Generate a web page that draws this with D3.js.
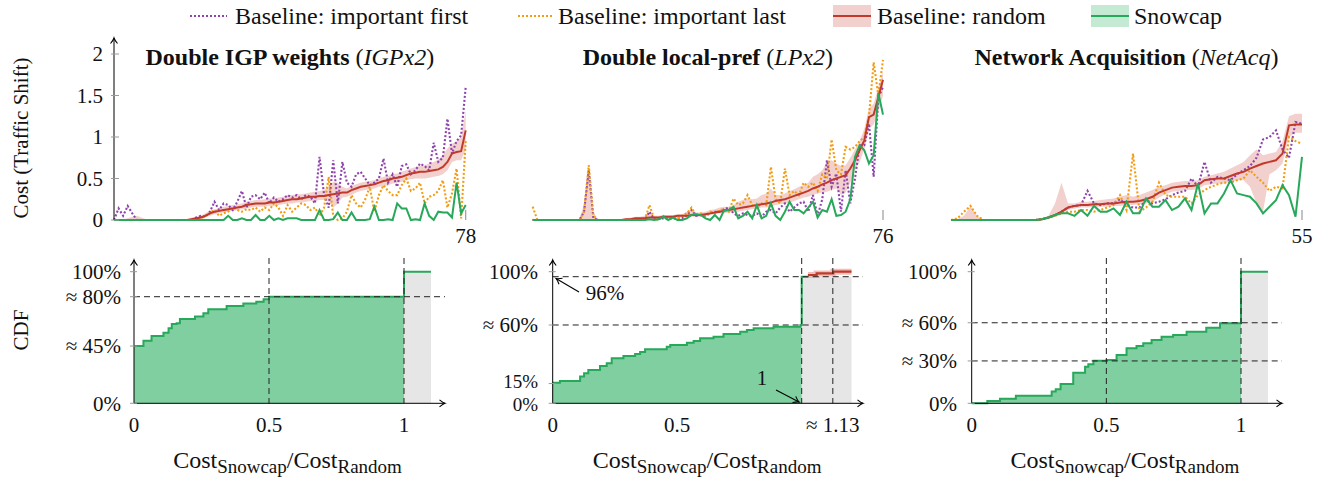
<!DOCTYPE html>
<html><head><meta charset="utf-8">
<script src="https://cdn.jsdelivr.net/npm/d3@7"></script>
<style>
body{margin:0;background:#fff}
svg{display:block}
text{font-family:'Liberation Serif','Times New Roman',serif;fill:#111}
</style>
</head><body>
<svg id="c" width="1330" height="483"></svg>
<script>
// ---------------- DATA ----------------
const legendLabels = ["Baseline: important first","Baseline: important last","Baseline: random","Snowcap"];
const panelTitles = ["Double IGP weights","Double local-pref","Network Acquisition"];
const panelAbbr = ["IGPx2","LPx2","NetAcq"];
const panelCounts = ["78","76","55"];
const topTicks = [0,0.5,1,1.5,2];
const topTickLabels = ["0","0.5","1","1.5","2"];

// IGPx2
const red1 = [0,0,0,0,0, 0,0,0,0,0, 0,0,0,0,0, 0,0,0.01,0.02,0.03, 0.05,0.08,0.1,0.11,0.12, 0.13,0.14,0.15,0.16,0.18, 0.19,0.2,0.2,0.2,0.21, 0.21,0.22,0.23,0.24,0.25, 0.25,0.26,0.27,0.28,0.28, 0.29,0.29,0.3,0.31,0.32, 0.33,0.33,0.36,0.38,0.4, 0.41,0.42,0.43,0.45,0.47, 0.48,0.5,0.51,0.52,0.54, 0.56,0.57,0.58,0.58,0.59, 0.6,0.61,0.64,0.7,0.8, 0.82,0.83,1.08];
const hi1 = [0.01,0.01,0.01,0.02,0.04, 0.05,0.03,0.01,0,0, 0,0,0,0,0, 0.01,0.01,0.03,0.04,0.05, 0.08,0.11,0.13,0.14,0.16, 0.17,0.18,0.19,0.2,0.22, 0.23,0.24,0.24,0.25,0.26, 0.26,0.27,0.28,0.3,0.3, 0.31,0.31,0.32,0.33,0.34, 0.35,0.36,0.4,0.46,0.45, 0.4,0.38,0.41,0.43,0.45, 0.46,0.47,0.48,0.5,0.52, 0.53,0.55,0.56,0.58,0.6, 0.62,0.64,0.65,0.66,0.68, 0.7,0.73,0.78,0.86,0.92, 0.95,1.0,1.32];
const lo1 = [0,0,0,0,0, 0,0,0,0,0, 0,0,0,0,0, 0,0,0,0,0.01, 0.03,0.05,0.07,0.08,0.09, 0.1,0.11,0.12,0.13,0.14, 0.15,0.16,0.16,0.16,0.17, 0.17,0.18,0.19,0.2,0.2, 0.21,0.21,0.22,0.23,0.23, 0.24,0.24,0.22,0.15,0.2, 0.27,0.28,0.3,0.33,0.35, 0.36,0.37,0.38,0.4,0.41, 0.42,0.44,0.45,0.46,0.48, 0.49,0.5,0.5,0.5,0.51, 0.52,0.53,0.55,0.6,0.7, 0.72,0.72,0.85];
const purple1 = [0,0.14,0.05,0.17,0.08, 0,0,0,0,0, 0,0,0,0,0, 0,0,0,0.03,0.05, 0.04,0.1,0.22,0.12,0.2, 0.18,0.12,0.22,0.35,0.15, 0.28,0.3,0.25,0.33,0.2, 0.27,0.22,0.25,0.3,0.27, 0.3,0.25,0.3,0.28,0.2, 0.76,0.3,0.15,0.72,0.2, 0.7,0.45,0.4,0.55,0.58, 0.5,0.42,0.45,0.5,0.74, 0.45,0.55,0.4,0.65,0.67, 0.55,0.6,0.68,0.65,0.6, 0.93,0.7,0.75,1.22,0.8, 0.95,1.02,1.6];
const orange1 = [0,0,0,0,0, 0,0,0,0,0, 0,0,0,0,0, 0,0,0,0,0.02, 0.05,0.08,0.12,0.05,0.08, 0.1,0.15,0.12,0.1,0.13, 0.12,0.15,0.1,0.15,0.12, 0.2,0.15,0.05,0.18,0.1, 0.15,0.2,0.18,0.12,0.15, 0.05,0.15,0.52,0.05,0, 0.02,0.1,0.3,0.2,0.15, 0.25,0.4,0.1,0.3,0.42, 0.35,0.3,0.3,0.42,0.5, 0.35,0.38,0.45,0.2,0.28, 0.3,0.35,0.48,0.15,0.32, 0.62,0.02,0.95];
const green1 = [0,0,0,0,0, 0,0,0,0,0, 0,0,0,0,0, 0,0,0,0,0, 0,0,0,0,0, 0.05,0,0,0.02,0, 0,0.06,0,0,0.05, 0,0.02,0,0.02,0.02, 0.02,0,0,0,0, 0.12,0,0,0.01,0.09, 0,0,0.09,0,0, 0,0.01,0.16,0,0, 0.01,0,0.2,0.14,0.14, 0,0.01,0,0.2,0.05, 0,0.1,0.09,0.09,0.03, 0.45,0.08,0.18];

// LPx2
const red2 = [0,0,0,0,0, 0,0,0,0,0, 0,0,0,0,0, 0,0,0,0,0, 0.01,0.01,0.02,0.02,0.02, 0.03,0.03,0.03,0.04,0.04, 0.04,0.05,0.05,0.05,0.06, 0.06,0.06,0.07,0.08,0.09, 0.1,0.11,0.12,0.13,0.14, 0.15,0.16,0.17,0.18,0.19, 0.2,0.21,0.23,0.24,0.25, 0.27,0.29,0.31,0.33,0.35, 0.38,0.4,0.43,0.45,0.48, 0.5,0.52,0.54,0.62,0.72, 0.84,0.96,1.24,1.27,1.48, 1.69];
const hi2 = [0.02,0,0,0,0, 0,0,0,0,0, 0,0.2,0.66,0.1,0, 0,0,0,0,0.01, 0.02,0.03,0.04,0.04,0.05, 0.1,0.05,0.05,0.06,0.06, 0.06,0.07,0.07,0.1,0.12, 0.09,0.09,0.1,0.12,0.13, 0.15,0.16,0.16,0.18,0.22, 0.24,0.26,0.25,0.26,0.3, 0.32,0.38,0.3,0.3,0.32, 0.35,0.37,0.4,0.42,0.45, 0.52,0.55,0.6,0.7,0.72, 0.68,0.65,0.66,0.75,0.85, 0.95,1.1,1.35,1.4,1.6, 1.78];
const lo2 = [0,0,0,0,0, 0,0,0,0,0, 0,0,0,0,0, 0,0,0,0,0, 0,0,0,0.01,0.01, 0.01,0.01,0.01,0.02,0.02, 0.02,0.03,0.03,0.03,0.04, 0.04,0.04,0.05,0.06,0.07, 0.08,0.08,0.09,0.1,0.1, 0.11,0.12,0.13,0.14,0.15, 0.15,0.16,0.18,0.19,0.2, 0.21,0.23,0.25,0.27,0.28, 0.3,0.32,0.33,0.34,0.36, 0.38,0.3,0.33,0.45,0.6, 0.7,0.85,1.1,1.15,1.3, 1.5];
const purple2 = [0,0,0,0,0, 0,0,0,0,0, 0,0.1,0.6,0.02,0, 0,0,0,0,0, 0,0,0,0,0, 0.1,0.01,0.02,0.02,0.02, 0.02,0.02,0.02,0.06,0.12, 0.05,0.06,0.05,0.08,0.1, 0.1,0.13,0.15,0.08,0.05, 0.08,0.06,0.05,0.08,0.04, 0.1,0.12,0.08,0.15,0.2, 0.1,0.15,0.2,0.22,0.1, 0.3,0.05,0.25,0.72,0.4, 0.56,0.1,0.6,0.2,0.5, 0.9,0.9,1.16,0.52,1.48, 1.6];
const orange2 = [0.16,0,0,0,0, 0,0,0,0,0, 0,0.1,0.66,0.05,0, 0,0,0,0,0, 0,0,0,0,0, 0.18,0.02,0,0.05,0.03, 0.04,0.02,0.05,0.08,0.15, 0.05,0.08,0.05,0.1,0.08, 0.12,0.13,0.1,0.26,0.18, 0.2,0.3,0.18,0.15,0.2, 0.18,0.64,0.25,0.2,0.62, 0.3,0.35,0.3,0.45,0.4, 0.45,0.35,0.55,0.5,0.97, 0.6,0.55,0.88,0.85,0.88, 0.95,1.0,1.25,1.9,1.5, 1.93];
const green2 = [0,0,0,0,0, 0,0,0,0,0, 0,0,0,0,0, 0,0,0,0,0, 0,0,0,0,0, 0.01,0,0.01,0.04,0, 0.03,0,0,0.02,0.06, 0.07,0.06,0.02,0,0.06, 0,0.12,0.12,0.16,0.02, 0.05,0.1,0.02,0.18,0.02, 0.05,0.2,0.05,0,0.1, 0.22,0.12,0.12,0.08,0.15, 0.22,0.03,0.12,0.1,0.25, 0.05,0.06,0.1,0.25,0.76, 0.9,0.84,0.68,0.78,1.53, 1.27];

// NetAcq
const red3 = [0,0,0,0,0, 0,0,0,0,0, 0,0,0,0,0.01, 0.03,0.06,0.1,0.15,0.17, 0.18,0.18,0.19,0.19,0.2, 0.2,0.21,0.22,0.22,0.23, 0.25,0.28,0.33,0.36,0.39, 0.4,0.41,0.41,0.42,0.48, 0.49,0.5,0.5,0.53,0.56, 0.58,0.62,0.65,0.68,0.7, 0.72,0.8,1.14,1.15,1.15];
const hi3 = [0.01,0.01,0.05,0.17,0.05, 0,0,0,0,0, 0,0,0,0,0.02, 0.05,0.2,0.45,0.2,0.2, 0.22,0.22,0.23,0.24,0.25, 0.26,0.28,0.3,0.28,0.3, 0.33,0.36,0.4,0.42,0.45, 0.46,0.47,0.47,0.48,0.52, 0.54,0.56,0.58,0.62,0.66, 0.7,0.78,0.85,0.78,0.8, 0.82,0.95,1.25,1.28,1.28];
const lo3 = [0,0,0,0,0, 0,0,0,0,0, 0,0,0,0,0, 0.01,0.04,0.07,0.12,0.14, 0.15,0.15,0.16,0.16,0.16, 0.17,0.17,0.18,0.18,0.19, 0.2,0.22,0.27,0.31,0.34, 0.35,0.36,0.36,0.37,0.42, 0.43,0.44,0.44,0.46,0.48, 0.48,0.4,0.2,0.1,0.55, 0.6,0.68,1.0,1.05,1.05];
const purple3 = [0,0,0,0,0, 0,0,0,0,0, 0,0,0,0,0.01, 0.03,0.06,0.1,0.15,0.17, 0.18,0.35,0.2,0.18,0.2, 0.2,0.25,0.18,0.15,0.15, 0.24,0.2,0.22,0.25,0.3, 0.33,0.35,0.5,0.4,0.7, 0.45,0.52,0.5,0.48,0.55, 0.6,0.65,0.75,0.97,1.0, 1.08,0.85,0.75,1.18,1.16];
const orange3 = [0,0.02,0.1,0.17,0.05, 0,0,0,0,0, 0,0,0,0,0.01, 0.03,0.05,0.08,0.1,0.1, 0.12,0.12,0.1,0.12,0.15, 0.18,0.3,0.12,0.8,0.1, 0.15,0.22,0.45,0.3,0.28, 0.28,0.28,0.2,0.3,0.36, 0.4,0.43,0.45,0.45,0.48, 0.5,0.6,0.52,0.45,0.35, 0.4,0.38,1.0,0.95,0.92];
const green3 = [0,0,0,0,0, 0,0,0,0,0, 0,0,0,0,0.01, 0.03,0.06,0.08,0.08,0.05, 0.12,0.05,0.17,0.1,0.1, 0.14,0.06,0.22,0.08,0.08, 0.26,0.16,0.16,0.24,0.12, 0.16,0.26,0.12,0.44,0.08, 0.2,0.2,0.32,0.48,0.32, 0.3,0.28,0.2,0.08,0.16, 0.24,0.42,0.3,0.04,0.76];

// CDF panels (x = Cost_Snowcap / Cost_Random, y = CDF)
const cdf1X = [0,0.035,0.065,0.109,0.128,0.14,0.158,0.17,0.226,0.257,0.275,0.343,0.405,0.453,0.48,0.5,1.0,1.1];
const cdf1Y = [0.435,0.476,0.511,0.537,0.57,0.603,0.608,0.641,0.659,0.684,0.714,0.739,0.759,0.772,0.79,0.81,1.0,1.0];
const cdf2X = [0,0.029,0.11,0.126,0.143,0.19,0.217,0.237,0.284,0.331,0.351,0.371,0.458,0.472,0.539,0.566,0.592,0.646,0.686,0.753,0.78,0.807,0.887,0.995,1.0,1.025];
const cdf2Y = [0.157,0.17,0.203,0.228,0.253,0.284,0.304,0.342,0.359,0.375,0.39,0.41,0.43,0.443,0.461,0.473,0.494,0.506,0.527,0.544,0.557,0.57,0.582,0.595,0.962,0.962];
const cdf2RandX = [1.025,1.06,1.127,1.2];
const cdf2RandY = [0.975,0.987,1.0,1.0];
const cdf3X = [0,0.058,0.105,0.164,0.297,0.312,0.33,0.377,0.421,0.433,0.452,0.501,0.538,0.575,0.612,0.637,0.668,0.705,0.748,0.798,0.871,0.922,1.0,1.1];
const cdf3Y = [0,0.018,0.035,0.058,0.089,0.106,0.147,0.233,0.278,0.296,0.324,0.329,0.367,0.418,0.435,0.456,0.481,0.506,0.519,0.544,0.575,0.608,1.0,1.0];

const cdf1YTicks = [0,0.435,0.81,1.0];
const cdf1YLabels = ["0%","≈ 45%","≈ 80%","100%"];
const cdf2YTicks = [0,0.15,0.595,1.0];
const cdf2YLabels = ["0%","15%","≈ 60%","100%"];
const cdf3YTicks = [0,0.322,0.612,1.0];
const cdf3YLabels = ["0%","≈ 30%","≈ 60%","100%"];
const cdf1XTicks = [0,0.5,1], cdf1XLabels = ["0","0.5","1"];
const cdf2XTicks = [0,0.5,1.125], cdf2XLabels = ["0","0.5","≈ 1.13"];
const cdf3XTicks = [0,0.5,1], cdf3XLabels = ["0","0.5","1"];

// ---------------- STYLE ----------------
const C = {
  purple:"#8e44ad", orange:"#f39c12", red:"#c0392b", band:"#eab0ab",
  green:"#27a85a", greenFill:"#80cfa0", greenBand:"#c5ead4", gray:"#e6e6e6", tick:"#9a9a9a"
};

const svg = d3.select("#c");
const defs = svg.append("defs");
defs.append("marker").attr("id","arr").attr("viewBox","-7 -5 9 10")
  .attr("refX",0).attr("refY",0).attr("markerWidth",9).attr("markerHeight",10)
  .attr("markerUnits","userSpaceOnUse").attr("orient","auto")
  .append("path").attr("d","M-5.5,-3.5 Q-2,-0.6 0,0 Q-2,0.6 -5.5,3.5")
  .attr("fill","none").attr("stroke","#000").attr("stroke-width",1.1);

// ---------------- LEGEND ----------------
const lg = svg.append("g");
lg.append("line").attr("x1",190).attr("x2",227).attr("y1",16).attr("y2",16)
  .attr("stroke",C.purple).attr("stroke-width",2).attr("stroke-dasharray","2,2");
lg.append("text").attr("x",235).attr("y",24).attr("font-size",24).text(legendLabels[0]);
lg.append("line").attr("x1",518).attr("x2",553).attr("y1",16).attr("y2",16)
  .attr("stroke",C.orange).attr("stroke-width",2).attr("stroke-dasharray","2,2");
lg.append("text").attr("x",558).attr("y",24).attr("font-size",24).text(legendLabels[1]);
lg.append("rect").attr("x",833).attr("y",5).attr("width",38).attr("height",22).attr("fill",C.band).attr("opacity",0.6);
lg.append("line").attr("x1",833).attr("x2",871).attr("y1",16).attr("y2",16).attr("stroke",C.red).attr("stroke-width",2.2);
lg.append("text").attr("x",877).attr("y",24).attr("font-size",24).text(legendLabels[2]);
lg.append("rect").attr("x",1091).attr("y",5).attr("width",38).attr("height",22).attr("fill",C.greenBand);
lg.append("line").attr("x1",1091).attr("x2",1129).attr("y1",16).attr("y2",16).attr("stroke",C.green).attr("stroke-width",2.2);
lg.append("text").attr("x",1134).attr("y",24).attr("font-size",24).text(legendLabels[3]);

// ---------------- TOP PANELS ----------------
const yTop = d3.scaleLinear().domain([0,2]).range([220,54]);
const topPanels = [
  {range:[114,465.7], red:red1, hi:hi1, lo:lo1, purple:purple1, orange:orange1, green:green1},
  {range:[532.7,883], red:red2, hi:hi2, lo:lo2, purple:purple2, orange:orange2, green:green2},
  {range:[951,1302], red:red3, hi:hi3, lo:lo3, purple:purple3, orange:orange3, green:green3}
];

topPanels.forEach((p,k)=>{
  const x = d3.scaleLinear().domain([0,p.red.length-1]).range(p.range);
  const g = svg.append("g");
  const cx = (p.range[0]+p.range[1])/2;
  const t = g.append("text").attr("x",cx).attr("y",65).attr("text-anchor","middle").attr("font-size",24);
  t.append("tspan").attr("font-weight","bold").text(panelTitles[k]+" ");
  t.append("tspan").text("(");
  t.append("tspan").attr("font-style","italic").text(panelAbbr[k]);
  t.append("tspan").text(")");

  const area = d3.area().x((d,i)=>x(i)).y0((d,i)=>yTop(p.lo[i])).y1((d,i)=>yTop(p.hi[i]));
  g.append("path").attr("d",area(p.red)).attr("fill",C.band).attr("opacity",0.6);
  const line = d3.line().x((d,i)=>x(i)).y(d=>yTop(d));
  g.append("path").attr("d",line(p.purple)).attr("fill","none").attr("stroke",C.purple)
    .attr("stroke-width",2.1).attr("stroke-dasharray","2,2");
  g.append("path").attr("d",line(p.orange)).attr("fill","none").attr("stroke",C.orange)
    .attr("stroke-width",2.1).attr("stroke-dasharray","2,2");
  g.append("path").attr("d",line(p.red)).attr("fill","none").attr("stroke",C.red).attr("stroke-width",2);
  g.append("path").attr("d",line(p.green)).attr("fill","none").attr("stroke",C.green).attr("stroke-width",2);

  const last = x(p.red.length-1);
  g.append("line").attr("x1",last).attr("x2",last).attr("y1",210).attr("y2",220).attr("stroke",C.tick).attr("stroke-width",1.2);
  g.append("text").attr("x",last).attr("y",243).attr("text-anchor","middle").attr("font-size",21).text(panelCounts[k]);

  if(k===0){
    g.append("line").attr("x1",114).attr("x2",114).attr("y1",220).attr("y2",38)
      .attr("stroke","#000").attr("stroke-width",1).attr("marker-end","url(#arr)");
    topTicks.forEach((v,j)=>{
      g.append("line").attr("x1",111).attr("x2",119).attr("y1",yTop(v)).attr("y2",yTop(v)).attr("stroke",C.tick);
      g.append("text").attr("x",103).attr("y",yTop(v)).attr("dy","0.35em").attr("text-anchor","end")
        .attr("font-size",21).text(topTickLabels[j]);
    });
  }
});

svg.append("text").attr("transform","translate(28,138) rotate(-90)").attr("text-anchor","middle")
  .attr("font-size",21).text("Cost (Traffic Shift)");
svg.append("text").attr("transform","translate(28,330) rotate(-90)").attr("text-anchor","middle")
  .attr("font-size",21).text("CDF");

// ---------------- CDF PANELS ----------------
const yC = d3.scaleLinear().domain([0,1]).range([403.3,271.7]);
const cdfPanels = [
  {x0:134, x1:404, xs:cdf1X, ys:cdf1Y, gEnd:1.1, gTop:1.0, arrowEnd:445, hl:[0.81], vl:[0.5,1],
   yt:cdf1YTicks, yl:cdf1YLabels, xt:cdf1XTicks, xl:cdf1XLabels, labelRight:121},
  {x0:552.7, x1:801.7, xs:cdf2X, ys:cdf2Y, gEnd:1.2, gTop:0.962, arrowEnd:863, hl:[0.962,0.595], vl:[1,1.125],
   yt:cdf2YTicks, yl:cdf2YLabels, xt:cdf2XTicks, xl:cdf2XLabels, labelRight:538, rx:cdf2RandX, ry:cdf2RandY},
  {x0:971.7, x1:1241, xs:cdf3X, ys:cdf3Y, gEnd:1.1, gTop:1.0, arrowEnd:1282, hl:[0.612,0.322], vl:[0.5,1],
   yt:cdf3YTicks, yl:cdf3YLabels, xt:cdf3XTicks, xl:cdf3XLabels, labelRight:957}
];

cdfPanels.forEach((p,k)=>{
  const x = d3.scaleLinear().domain([0,1]).range([p.x0,p.x1]);
  const g = svg.append("g");
  const pts = p.xs.map((v,i)=>({x:v,y:p.ys[i]}));
  g.append("rect").attr("x",x(1)).attr("y",yC(p.gTop)).attr("width",x(p.gEnd)-x(1))
    .attr("height",yC(0)-yC(p.gTop)).attr("fill",C.gray);
  const ap = pts.filter(d=>d.x<1);
  ap.push({x:1,y:ap[ap.length-1].y});
  const area = d3.area().curve(d3.curveStepAfter).x(d=>x(d.x)).y0(yC(0)).y1(d=>yC(d.y));
  g.append("path").attr("d",area(ap)).attr("fill",C.greenFill);
  const line = d3.line().curve(d3.curveStepAfter).x(d=>x(d.x)).y(d=>yC(d.y));
  g.append("path").attr("d",line(pts)).attr("fill","none").attr("stroke",C.green).attr("stroke-width",2);
  if(p.rx){
    const rp = p.rx.map((v,i)=>({x:v,y:p.ry[i]}));
    g.append("path").attr("d",line(rp)).attr("fill","none").attr("stroke",C.band).attr("stroke-width",6).attr("opacity",0.8);
    g.append("path").attr("d",line(rp)).attr("fill","none").attr("stroke",C.red).attr("stroke-width",2.2);
  }
  p.hl.forEach(v=>{
    g.append("line").attr("x1",p.x0).attr("x2",p.arrowEnd).attr("y1",yC(v)).attr("y2",yC(v))
      .attr("stroke","#222").attr("stroke-width",1).attr("stroke-dasharray","6,4");
  });
  p.vl.forEach(v=>{
    g.append("line").attr("x1",x(v)).attr("x2",x(v)).attr("y1",258).attr("y2",yC(0))
      .attr("stroke","#222").attr("stroke-width",1).attr("stroke-dasharray","6,4");
  });
  g.append("line").attr("x1",p.x0).attr("x2",p.x0).attr("y1",yC(0)).attr("y2",260)
    .attr("stroke","#000").attr("marker-end","url(#arr)");
  g.append("line").attr("x1",p.x0).attr("x2",p.arrowEnd).attr("y1",yC(0)).attr("y2",yC(0))
    .attr("stroke","#000").attr("marker-end","url(#arr)");
  p.yt.forEach((v,j)=>{
    g.append("line").attr("x1",p.x0-4).attr("x2",p.x0+3).attr("y1",yC(v)).attr("y2",yC(v)).attr("stroke",C.tick);
    // keep the close 0%/15% pair from colliding
    let off = 0;
    if(k===1 && v===0) off = 1.5;
    if(k===1 && v===0.15) off = -2.5;
    g.append("text").attr("x",p.labelRight).attr("y",yC(v)+off).attr("dy","0.35em").attr("text-anchor","end")
      .attr("font-size",(k===1 && v<0.2) ? 19 : 21).text(p.yl[j]);
  });
  p.xt.forEach((v,j)=>{
    g.append("text").attr("x",x(v)).attr("y",432).attr("text-anchor","middle").attr("font-size",21).text(p.xl[j]);
  });
  const cx = (p.x0 + x(p.gEnd))/2 + 5;
  const t = g.append("text").attr("x",cx).attr("y",468).attr("text-anchor","middle").attr("font-size",24);
  t.append("tspan").text("Cost");
  t.append("tspan").attr("font-size",19).attr("dy",5).text("Snowcap");
  t.append("tspan").attr("dy",-5).text("/Cost");
  t.append("tspan").attr("font-size",19).attr("dy",5).text("Random");
});

// annotations on the middle CDF
const ann = svg.append("g");
ann.append("line").attr("x1",579).attr("y1",292).attr("x2",556).attr("y2",278.5)
  .attr("stroke","#000").attr("stroke-width",1.1).attr("marker-end","url(#arr)");
ann.append("text").attr("x",605).attr("y",293).attr("dy","0.35em").attr("text-anchor","middle").attr("font-size",21).text("96%");
ann.append("line").attr("x1",776).attr("y1",390).attr("x2",799).attr("y2",402)
  .attr("stroke","#000").attr("stroke-width",1.1).attr("marker-end","url(#arr)");
ann.append("text").attr("x",762).attr("y",378).attr("dy","0.35em").attr("text-anchor","middle").attr("font-size",21).text("1");
</script>
</body></html>
